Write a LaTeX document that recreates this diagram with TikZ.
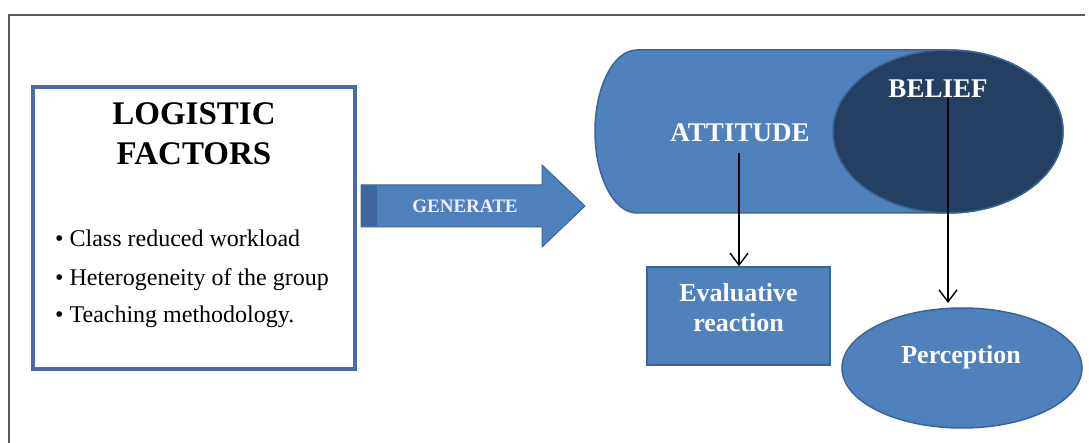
\documentclass[tikz,border=0pt]{standalone}
\usepackage{fontspec}
\setmainfont{Liberation Serif}
\usetikzlibrary{arrows.meta,shapes.geometric}
\definecolor{officeblue}{HTML}{4F81BD}
\definecolor{officeedge}{HTML}{3A6496}
\definecolor{darknavy}{HTML}{243F62}
\definecolor{boxedge}{HTML}{4A6DA6}
\definecolor{genstrip}{HTML}{3C67A0}
\tikzset{
  arr/.style={line width=1.4pt,-{Straight Barb[length=12pt,width=18pt,line width=1.4pt]}},
  whitebold/.style={text=white,font=\bfseries,align=center,inner sep=0pt},
  bluebox/.style={draw=officeedge,line width=1.5pt,fill=officeblue},
  bullet/.style={anchor=base west,font=\fontsize{24}{26}\selectfont,inner sep=0pt}
}
\begin{document}
\begin{tikzpicture}[x=1pt,y=-1pt]
\useasboundingbox (0,0) rectangle (1089,443);
% outer frame
\draw[gray!70!black,line width=1.3pt] (1085,15) -- (9,15) -- (9,443);
% logistic box
\node[draw=boxedge,line width=3.5pt,minimum width=322pt,minimum height=282pt,inner sep=0pt] (logbox) at (194,228) {};
\node[font=\bfseries\fontsize{33}{40}\selectfont,anchor=base,inner sep=0pt] (log1) at (194,125) {LOGISTIC};
\node[font=\bfseries\fontsize{33}{40}\selectfont,anchor=base,inner sep=0pt] (log2) at (194,165) {FACTORS};
\node[bullet] (b1) at (55,247) {\textbullet\ Class reduced workload};
\node[bullet] (b2) at (55,286) {\textbullet\ Heterogeneity of the group};
\node[bullet] (b3) at (55,323) {\textbullet\ Teaching methodology.};
% generate arrow
\draw[officeedge,line width=1pt,fill=officeblue] (361,185) -- (542,185) -- (542,165) -- (585,206) -- (542,247) -- (542,227) -- (361,227) -- cycle;
\fill[genstrip] (362,185.5) rectangle (377,226.5);
\node[text=blue!6!white,font=\bfseries\fontsize{19}{22}\selectfont,inner sep=0pt,anchor=base] (gen) at (465,213) {GENERATE};
% cylinder
\draw[bluebox] (637,50) -- (948,50) arc[start angle=-90,end angle=90,x radius=115,y radius=81.5] -- (637,213) arc[start angle=90,end angle=270,x radius=42,y radius=81.5] -- cycle;
\draw[officeedge,line width=1.5pt,fill=darknavy] (948,131.5) ellipse[x radius=115,y radius=81.5];
\node[whitebold,font=\bfseries\fontsize{27}{30}\selectfont,anchor=base] (att) at (740,142) {ATTITUDE};
\node[whitebold,font=\bfseries\fontsize{27}{30}\selectfont,anchor=base] (bel) at (938,98) {BELIEF};
% evaluative reaction
\node[bluebox,minimum width=183pt,minimum height=98pt,inner sep=0pt] (eval) at (738.5,316) {};
\node[whitebold,font=\bfseries\fontsize{26}{30}\selectfont,anchor=base] (ev1) at (738.5,302) {Evaluative};
\node[whitebold,font=\bfseries\fontsize{26}{30}\selectfont,anchor=base] (ev2) at (738.5,332) {reaction};
% perception
\node[draw=officeedge,line width=1.5pt,fill=officeblue,ellipse,minimum width=240pt,minimum height=120pt,inner sep=0pt] (perc) at (962,368) {};
\node[whitebold,font=\bfseries\fontsize{26}{30}\selectfont,anchor=base] (perctext) at (961,363) {Perception};
% connectors
\coordinate (attstart) at (739,153);
\coordinate (belstart) at (948,98);
\draw[arr] (attstart) -- (attstart |- eval.north);
\draw[arr] (belstart) -- (948,303);
\end{tikzpicture}
\end{document}
